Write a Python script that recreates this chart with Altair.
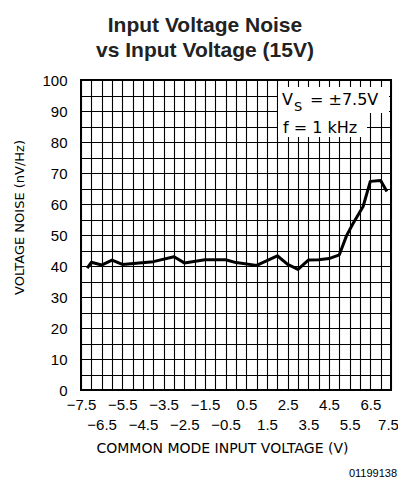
import altair as alt
import pandas as pd
import numpy as np

# Data
vcm = [-7.2, -7.0, -6.5, -6.0, -5.5, -4.0, -3.0, -2.5, -1.5, -0.5, 0.0, 1.0,
       2.0, 2.5, 3.0, 3.5, 4.0, 4.5, 5.0, 5.35, 5.67, 6.15, 6.5, 7.0, 7.3]
noise = [39.3, 41.2, 40.3, 41.9, 40.5, 41.4, 43.0, 41.0, 42.0, 42.0, 41.1, 40.2,
         43.3, 40.5, 38.9, 41.9, 42.0, 42.4, 43.6, 49.8, 53.8, 59.2, 67.3, 67.6, 64.0]

x_labels_top = [-7.5, -5.5, -3.5, -1.5, 0.5, 2.5, 4.5, 6.5]
x_labels_bottom = [-6.5, -4.5, -2.5, -0.5, 1.5, 3.5, 5.5, 7.5]
x_grid = list(np.arange(-7.5, 7.51, 0.5))
y_grid = list(range(0, 101, 5))

annot_texts = ["V", "S", "=  ±7.5V", "f  =  1 kHz", "01199138"]

df = pd.DataFrame({"v": vcm, "n": noise})
one = pd.DataFrame({"k": [0]})

top_js = "[" + ",".join(str(v) for v in x_labels_top) + "]"
bot_js = "[" + ",".join(str(v) for v in x_labels_bottom) + "]"
x_label_expr = (f"indexof({top_js}, datum.value) >= 0 ? [datum.label, ''] : "
                f"(indexof({bot_js}, datum.value) >= 0 ? ['', datum.label] : '')")

x_enc = alt.X("v:Q", scale=alt.Scale(domain=[-7.5, 7.5], nice=False, zero=False),
              axis=alt.Axis(values=x_grid, format=".1f", labelExpr=x_label_expr,
                            ticks=False, tickSize=0, domain=False,
                            grid=True, gridColor="#000", gridWidth=1.1,
                            labelFont="Liberation Sans", labelFontSize=15, labelColor="#000",
                            labelPadding=7, labelLineHeight=20, labelBaseline="top",
                            labelOffset=alt.ExprRef(expr="datum.value == 7.5 ? -3 : 0"),
                            labelOverlap=False, labelFlush=False, labelBound=False,
                            title="COMMON MODE INPUT VOLTAGE (V)",
                            titleFont="DejaVu Sans", titleFontSize=14, titleFontWeight="normal",
                            titleColor="#000", titleX=141, titleY=58,
                            titleAlign="center", titleBaseline="middle"))
y_enc = alt.Y("n:Q", scale=alt.Scale(domain=[0, 100], nice=False),
              axis=alt.Axis(values=y_grid, labelExpr="datum.value % 10 == 0 ? datum.label : ''",
                            ticks=False, tickSize=0, domain=False,
                            grid=True, gridColor="#000", gridWidth=1.1,
                            labelFont="Liberation Sans", labelFontSize=15, labelColor="#000",
                            labelPadding=14, labelBaseline="middle",
                            labelOverlap=False, labelBound=False, labelFlush=False,
                            title="VOLTAGE NOISE (nV/Hz)",
                            titleFont="DejaVu Sans", titleFontSize=13, titleFontWeight="normal",
                            titleColor="#000", titleAngle=-90, titleX=-62, titleY=137,
                            titleAlign="center", titleBaseline="middle"))

line = alt.Chart(df).mark_line(color="#000", strokeWidth=3, strokeJoin="round").encode(
    x=x_enc, y=y_enc)

box1 = alt.Chart(one).mark_rect(fill="white").encode(
    x=alt.value(197), x2=alt.value(308), y=alt.value(7), y2=alt.value(33))
box2 = alt.Chart(one).mark_rect(fill="white").encode(
    x=alt.value(197), x2=alt.value(286), y=alt.value(32), y2=alt.value(57))

txt_style = dict(font="DejaVu Sans", fontSize=16, color="#000", align="left", baseline="alphabetic")
t_v = alt.Chart(one).mark_text(**txt_style, text=annot_texts[0]).encode(
    x=alt.value(201), y=alt.value(25))
t_s = alt.Chart(one).mark_text(font="DejaVu Sans", fontSize=13, color="#000", align="left",
                               baseline="alphabetic", text=annot_texts[1]).encode(
    x=alt.value(213), y=alt.value(31))
t_eq = alt.Chart(one).mark_text(**txt_style, text=annot_texts[2]).encode(
    x=alt.value(229), y=alt.value(25))
t_f = alt.Chart(one).mark_text(**txt_style, text=annot_texts[3]).encode(
    x=alt.value(202), y=alt.value(53))
t_code = alt.Chart(one).mark_text(font="Liberation Sans", fontSize=11, color="#000", align="right",
                                  baseline="alphabetic", text=annot_texts[4]).encode(
    x=alt.value(316), y=alt.value(397))

chart = alt.layer(box1, box2, line, t_v, t_s, t_eq, t_f, t_code).properties(
    width=310, height=310,
    title=alt.TitleParams(["Input Voltage Noise", "vs Input Voltage (15V)"],
                          font="Liberation Sans", fontSize=21, fontWeight="bold",
                          color="#222", lineHeight=25, anchor="middle", dx=-31, offset=12),
    autosize=alt.AutoSizeParams(type="none"),
    padding={"left": 73, "top": 72, "right": 7, "bottom": 96},
).configure_view(stroke="#000", strokeWidth=2)

chart.save("out.html", embed_options={"renderer": "svg", "actions": False})
